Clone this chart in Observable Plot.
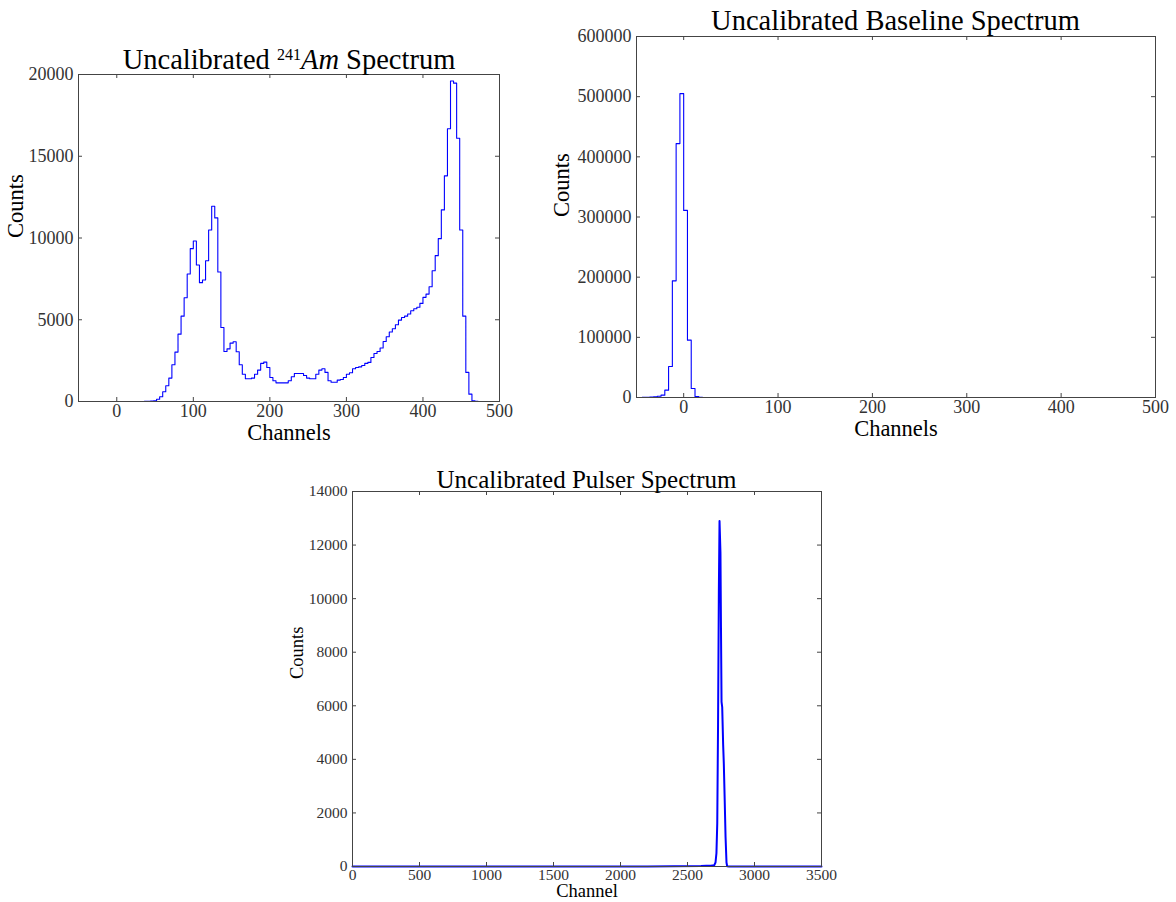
<!DOCTYPE html>
<html><head><meta charset="utf-8">
<script src="https://cdn.jsdelivr.net/npm/d3@7"></script>
<script src="https://cdn.jsdelivr.net/npm/@observablehq/plot@0.6"></script>
<style>
html,body{margin:0;padding:0;background:#fff;overflow:hidden}
#fig{position:relative;width:1176px;height:902px;background:#fff}
#fig svg{position:absolute;left:0;top:0}
</style></head><body><div id="fig"></div>
<script>
// ---------- DATA ----------
// Uncalibrated 241Am spectrum: histogram, 4-channel bins starting at channel 20
const amBinStart = 20;
const amBinWidth = 4;
const amCounts = [0,0,0,0,5,10,20,40,140,290,600,960,1430,2250,3020,4120,5220,6350,7800,9350,
  9820,8350,7270,7430,8610,10490,11940,11230,7920,4530,3060,3220,3570,3650,3040,2250,1670,1390,1390,1430,
  1670,1920,2330,2410,2080,1470,1270,1140,1140,1140,1140,1270,1510,1710,1710,1710,1590,1430,1390,1390,
  1670,1920,2000,1780,1270,1180,1180,1310,1350,1470,1670,1760,2000,2080,2120,2200,2330,2390,2690,2940,
  3060,3270,3670,3960,4250,4450,4690,4980,5140,5220,5350,5550,5670,5760,6000,6370,6570,7020,8000,8920,
  9960,11720,13800,16680,19600,19470,16100,10490,5220,1780,450,40,5,0,0,0,0,0,0,0];
const amXTicks = [0,100,200,300,400,500];
const amYTicks = [0,5000,10000,15000,20000];

// Uncalibrated baseline spectrum: histogram, 4-channel bins starting at channel -44
const baseBinStart = -44;
const baseBinWidth = 4;
const baseCounts = [300,500,800,1200,2000,3900,12200,51500,193900,422000,505000,311000,95300,15000,1700,200,0];
const baseXTicks = [0,100,200,300,400,500];
const baseYTicks = [0,100000,200000,300000,400000,500000,600000];

// Uncalibrated pulser spectrum: line
const pulserChannels = [0,500,1000,1500,2000,2200,2400,2600,2680,2700,2709,2716,2722,2728,2734,
  2739,2746,2750,2754,2759,2766,2771,2778,2784,2791,2796,2810,3000,3500];
const pulserCounts = [0,0,0,0,0,3,8,20,35,50,150,500,1600,5300,10300,
  12900,11700,8800,6150,5950,4550,3840,2400,1100,150,10,0,0,0];
const pulserXTicks = [0,500,1000,1500,2000,2500,3000,3500];
const pulserYTicks = [0,2000,4000,6000,8000,10000,12000,14000];

// ---------- HELPERS ----------
const W = 1176, H = 902;
const FONT = "'Liberation Serif', 'Times New Roman', serif";
function histSteps(start, width, counts) {
  const pts = counts.map((c, i) => ({x: start + i * width, y: c}));
  pts.push({x: start + counts.length * width, y: counts[counts.length - 1]});
  return pts;
}
function panel(cfg) {
  const [L, T, R, B] = cfg.frame;
  const ph = B - T, pw = R - L, tl = 4;
  const fig = Plot.plot({
    width: W, height: H,
    marginLeft: L, marginRight: W - R, marginTop: T, marginBottom: H - B,
    style: {background: "transparent", fontFamily: FONT, color: "#333", overflow: "visible", maxWidth: "none"},
    x: {domain: cfg.xDomain},
    y: {domain: cfg.yDomain},
    marks: [
      ...cfg.marks,
      Plot.tickX(cfg.xTicks, {x: d => d, insetTop: ph - tl, stroke: "#444"}),
      Plot.tickX(cfg.xTicks, {x: d => d, insetBottom: ph - tl, stroke: "#444"}),
      Plot.tickY(cfg.yTicks, {y: d => d, insetRight: pw - tl, stroke: "#444"}),
      Plot.tickY(cfg.yTicks, {y: d => d, insetLeft: pw - tl, stroke: "#444"}),
      Plot.axisX(cfg.xTicks, {tickSize: 0, tickPadding: cfg.xPad, fontSize: cfg.tickFont, tickFormat: "d", label: null}),
      Plot.axisY(cfg.yTicks, {tickSize: 0, tickPadding: cfg.yPad, fontSize: cfg.tickFont, tickFormat: "d", label: null}),
      Plot.frame({stroke: "#444"}),
      Plot.text([cfg.xLabel], {text: d => d, frameAnchor: "bottom", dy: cfg.xLabelDy, fontSize: cfg.labelFont, fill: "#000"}),
      Plot.text([cfg.yLabel], {text: d => d, frameAnchor: "left", dx: cfg.yLabelDx, rotate: -90, fontSize: cfg.labelFont, fill: "#000"})
    ]
  });
  document.getElementById("fig").appendChild(fig);
}

// ---------- PANELS ----------
panel({
  frame: [78, 74, 499, 401],
  xDomain: [-50, 500], yDomain: [0, 20000],
  xTicks: amXTicks, yTicks: amYTicks,
  tickFont: 18, xPad: 3, yPad: 5,
  xLabel: "Channels", yLabel: "Counts", labelFont: 22.5, xLabelDy: 38, yLabelDx: -63,
  marks: [Plot.line(histSteps(amBinStart, amBinWidth, amCounts), {x: "x", y: "y", curve: "step-after", stroke: "#0000ff", strokeWidth: 1.1})]
});
panel({
  frame: [636, 36, 1155, 397],
  xDomain: [-50, 500], yDomain: [0, 600000],
  xTicks: baseXTicks, yTicks: baseYTicks,
  tickFont: 18, xPad: 3, yPad: 5,
  xLabel: "Channels", yLabel: "Counts", labelFont: 22.5, xLabelDy: 38, yLabelDx: -75,
  marks: [Plot.line(histSteps(baseBinStart, baseBinWidth, baseCounts), {x: "x", y: "y", curve: "step-after", stroke: "#0000ff", strokeWidth: 1.1})]
});
panel({
  frame: [352, 491, 821, 866],
  xDomain: [0, 3500], yDomain: [0, 14000],
  xTicks: pulserXTicks, yTicks: pulserYTicks,
  tickFont: 15.5, xPad: 2, yPad: 5,
  xLabel: "Channel", yLabel: "Counts", labelFont: 18.5, xLabelDy: 30, yLabelDx: -55,
  marks: [Plot.line(pulserChannels.map((c, i) => ({x: c, y: pulserCounts[i]})), {x: "x", y: "y", stroke: "#0000ff", strokeWidth: 2, strokeLinejoin: "round"})]
});

// ---------- TITLES ----------
const ov = d3.select("#fig").append("svg").attr("width", W).attr("height", H)
  .style("font-family", FONT).style("white-space", "pre");
const t1 = ov.append("text").attr("x", 289).attr("y", 69).attr("text-anchor", "middle").attr("font-size", 28.5);
t1.append("tspan").text("Uncalibrated ");
t1.append("tspan").attr("dy", -9).attr("font-size", 16).text("241");
t1.append("tspan").attr("dy", 9).attr("font-style", "italic").text("Am");
t1.append("tspan").text(" Spectrum");
ov.append("text").attr("x", 895.5).attr("y", 29.5).attr("text-anchor", "middle").attr("font-size", 28.5).text("Uncalibrated Baseline Spectrum");
ov.append("text").attr("x", 586.5).attr("y", 488).attr("text-anchor", "middle").attr("font-size", 25).text("Uncalibrated Pulser Spectrum");
</script></body></html>
